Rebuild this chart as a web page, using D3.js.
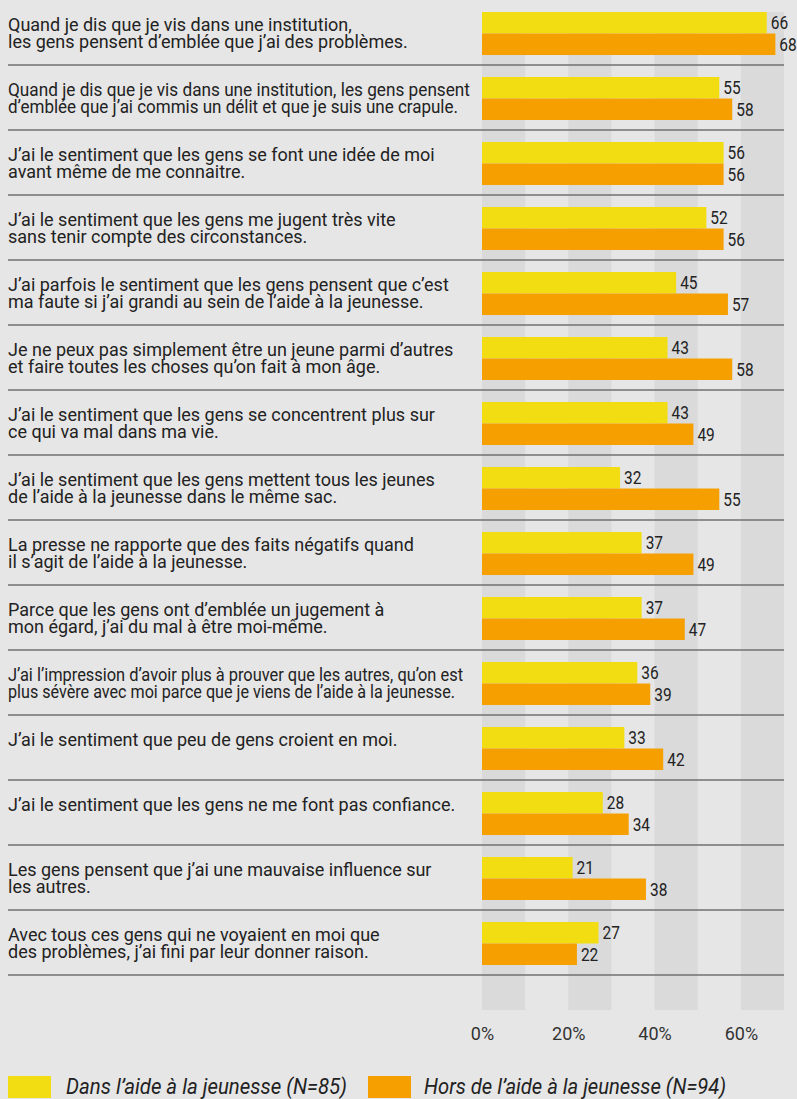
<!DOCTYPE html>
<html>
<head>
<meta charset="utf-8">
<script src="https://cdn.jsdelivr.net/npm/d3@7"></script>
<style>
  html, body { margin: 0; padding: 0; background: #e6e6e6; }
  .canvas { width: 797px; height: 1099px; }
</style>
</head>
<body>
<div class="canvas"></div>
<script>
var width = 797,
	height = 1099;

// statements, one array of lines per row
var statements = [
	["Quand je dis que je vis dans une institution,", "les gens pensent d\u2019emblée que j\u2019ai des problèmes."],
	["Quand je dis que je vis dans une institution, les gens pensent", "d\u2019emblée que j\u2019ai commis un délit et que je suis une crapule."],
	["J\u2019ai le sentiment que les gens se font une idée de moi", "avant même de me connaitre."],
	["J\u2019ai le sentiment que les gens me jugent très vite", "sans tenir compte des circonstances."],
	["J\u2019ai parfois le sentiment que les gens pensent que c\u2019est", "ma faute si j\u2019ai grandi au sein de l\u2019aide à la jeunesse."],
	["Je ne peux pas simplement être un jeune parmi d\u2019autres", "et faire toutes les choses qu\u2019on fait à mon âge."],
	["J\u2019ai le sentiment que les gens se concentrent plus sur", "ce qui va mal dans ma vie."],
	["J\u2019ai le sentiment que les gens mettent tous les jeunes", "de l\u2019aide à la jeunesse dans le même sac."],
	["La presse ne rapporte que des faits négatifs quand", "il s\u2019agit de l\u2019aide à la jeunesse."],
	["Parce que les gens ont d\u2019emblée un jugement à", "mon égard, j\u2019ai du mal à être moi-même."],
	["J\u2019ai l\u2019impression d\u2019avoir plus à prouver que les autres, qu\u2019on est", "plus sévère avec moi parce que je viens de l\u2019aide à la jeunesse."],
	["J\u2019ai le sentiment que peu de gens croient en moi."],
	["J\u2019ai le sentiment que les gens ne me font pas confiance."],
	["Les gens pensent que j\u2019ai une mauvaise influence sur", "les autres."],
	["Avec tous ces gens qui ne voyaient en moi que", "des problèmes, j\u2019ai fini par leur donner raison."]
];
// rows whose text is squeezed in the original (line widths in px)
var condensed = { 1: [462, 450], 10: [455, 447] };

var dans = [66, 55, 56, 52, 45, 43, 43, 32, 37, 37, 36, 33, 28, 21, 27];
var hors = [68, 58, 56, 56, 57, 58, 49, 55, 49, 47, 39, 42, 34, 38, 22];

var series = ["dans", "hors"];
var seriesNames = ["Dans l\u2019aide à la jeunesse (N=85)", "Hors de l\u2019aide à la jeunesse (N=94)"];
var colors = ["#f2dc12", "#f59f00"];

var ticks = [0, 20, 40, 60];
var stripes = [0, 20, 40, 60];

var font = "Roboto, 'Open Sans', sans-serif";

var svg = d3.select(".canvas")
	.append("svg")
	.attr("width", width)
	.attr("height", height);

svg.append("rect")
	.attr("width", width)
	.attr("height", height)
	.attr("fill", "#e6e6e6");

var x = d3.scaleLinear()
	.domain([0, 70])
	.range([482, 784]);

var y = d3.scaleBand()
	.domain(d3.range(statements.length))
	.range([0, 975]);

var yInner = d3.scaleBand()
	.domain(series)
	.range([12, 55]);

/* ---------- stripes ---------- */
svg.append("g").selectAll("rect")
	.data(stripes)
	.enter().append("rect")
	.attr("x", function(d) { return x(d); })
	.attr("width", function(d) { return x(d + 10) - x(d); })
	.attr("y", 12)
	.attr("height", 1010 - 12)
	.attr("fill", "#dadada");

/* ---------- rows ---------- */
var rows = svg.append("g").selectAll("g")
	.data(statements)
	.enter().append("g")
	.attr("transform", function(d, i) { return "translate(0," + y(i) + ")"; });

rows.append("line")
	.attr("x1", 8)
	.attr("x2", 784)
	.attr("y1", y.bandwidth())
	.attr("y2", y.bandwidth())
	.attr("stroke", "#707070")
	.attr("stroke-width", 1.6);

rows.each(function(lines, i) {
	var g = d3.select(this);
	lines.forEach(function(line, j) {
		var t = g.append("text")
			.attr("x", 8)
			.attr("y", 31 + j * 17)
			.attr("font-family", font)
			.attr("font-size", 18)
			.attr("fill", "#222")
			.text(line);
		if (condensed[i]) {
			t.attr("textLength", condensed[i][j])
				.attr("lengthAdjust", "spacingAndGlyphs");
		}
	});

	var vals = [dans[i], hors[i]];
	series.forEach(function(s, k) {
		g.append("rect")
			.attr("x", x(0))
			.attr("y", yInner(s))
			.attr("width", x(vals[k]) - x(0))
			.attr("height", yInner.bandwidth())
			.attr("fill", colors[k]);
		g.append("text")
			.attr("transform", "translate(" + (x(vals[k]) + 4) + "," + (yInner(s) + yInner.bandwidth() / 2 + 6.5) + ") scale(0.86,1)")
			.attr("font-family", font)
			.attr("font-size", 18)
			.attr("fill", "#222")
			.text(vals[k]);
	});
});

/* ---------- axis ---------- */
var axis = svg.append("g")
	.attr("transform", "translate(0,1027)")
	.call(d3.axisBottom(x)
		.tickValues(ticks)
		.tickSize(0)
		.tickPadding(0)
		.tickFormat(function(d) { return d + "%"; }));
axis.select(".domain").remove();
axis.selectAll("text")
	.attr("font-family", font)
	.attr("font-size", 18)
	.attr("fill", "#333");

/* ---------- legend ---------- */
var legendX = [[8, 66, 281], [368, 424, 302]];
var legend = svg.append("g").selectAll("g")
	.data(seriesNames)
	.enter().append("g");

legend.append("rect")
	.attr("x", function(d, i) { return legendX[i][0]; })
	.attr("y", 1076)
	.attr("width", 43)
	.attr("height", 22)
	.attr("fill", function(d, i) { return colors[i]; });

legend.append("text")
	.attr("x", function(d, i) { return legendX[i][1]; })
	.attr("y", 1094)
	.attr("font-family", font)
	.attr("font-style", "italic")
	.attr("font-size", 22)
	.attr("fill", "#222")
	.attr("textLength", function(d, i) { return legendX[i][2]; })
	.attr("lengthAdjust", "spacingAndGlyphs")
	.text(function(d) { return d; });
</script>
</body>
</html>
